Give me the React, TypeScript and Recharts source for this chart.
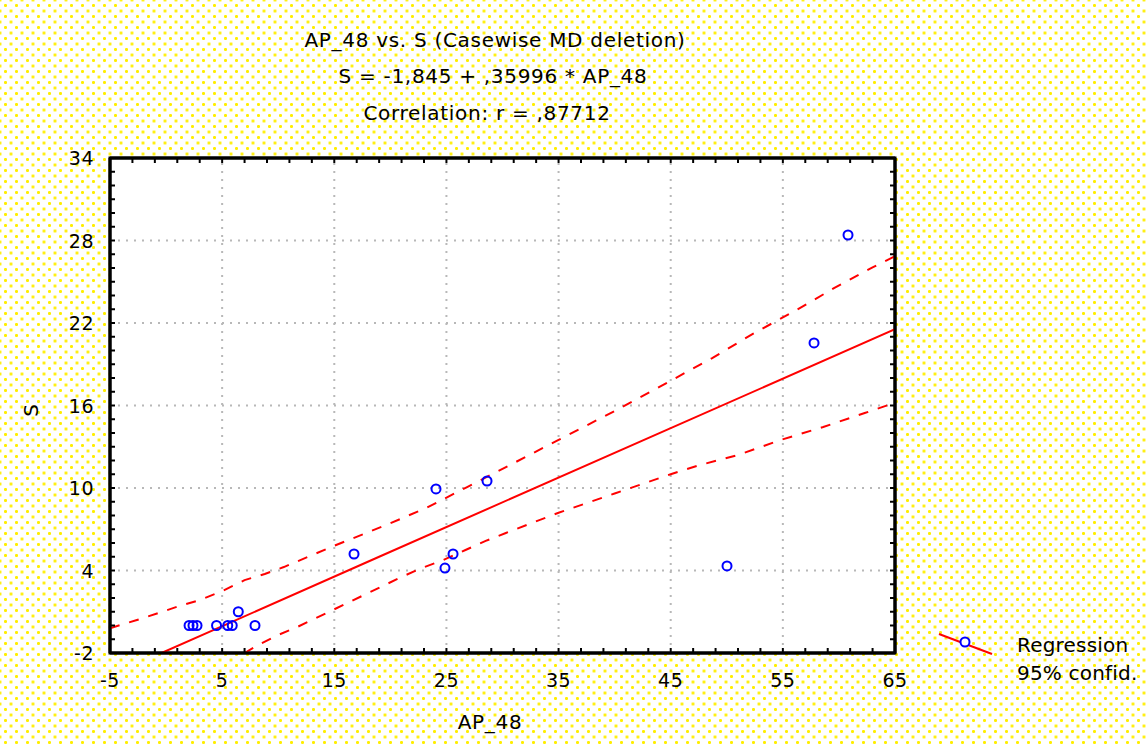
import React from "react"
import { ComposedChart, XAxis, YAxis, Line, Scatter, ReferenceLine, ReferenceArea } from "recharts"

// observed cases (AP_48, S)
const obsX = [2.05, 2.4, 2.76, 4.5, 5.5, 5.9, 6.44, 7.93, 16.76, 24.07, 24.87, 25.59, 28.62, 50.02, 57.78, 60.81]
const obsS = [0, 0, 0, 0, 0, 0, 1, 0, 5.2, 9.93, 4.18, 5.2, 10.51, 4.33, 20.55, 28.4]

// fitted line
const regX = [-0.4, 19, 65]
const regS = [-2, 5.0, 21.55]

// 95% confidence band, upper and lower edge
const upperX = [-5, -2.6, -0.7, 1.1, 3.0, 5.0, 7.0, 8.8, 10.5, 15, 19.6, 23.2, 26.8, 30.5, 35, 40, 45, 48.7, 52.4, 55.9, 59.6, 63.0, 65]
const upperS = [-0.2, 0.4, 0.9, 1.4, 1.85, 2.5, 3.3, 3.75, 4.25, 5.8, 7.3, 8.55, 10.05, 11.6, 13.5, 15.6, 17.8, 19.45, 21.25, 22.8, 24.55, 26.05, 26.85]
const lowerX = [7.0, 8.2, 10.0, 11.7, 15, 21.0, 22.8, 24.7, 26.7, 28.5, 30.3, 35, 40, 45, 47.6, 51.0, 54.8, 58.6, 62.3, 65]
const lowerS = [-2, -1.42, -0.69, -0.11, 1.18, 3.53, 4.18, 4.76, 5.49, 6.15, 6.73, 8.2, 9.6, 11.0, 11.67, 12.4, 13.49, 14.44, 15.45, 16.2]

// axes
const xLabels = [-5, 5, 15, 25, 35, 45, 55, 65]
const yLabels = [-2, 4, 10, 16, 22, 28, 34]
const xGrid = [5, 15, 25, 35, 45, 55]
const yGrid = [4, 10, 16, 22, 28]
const xMinor = Array.from({ length: 36 }, (_, i) => -5 + i * 2)
const yMinor = Array.from({ length: 37 }, (_, i) => -2 + i)

const FONT = "'DejaVu Sans', sans-serif"
const RED = "#ff0000"
const BLUE = "#0000ff"

const zip = (xs: number[], ys: number[]) => xs.map((x, i) => ({ x, y: ys[i] }))
const points = zip(obsX, obsS)
const regression = zip(regX, regS)
const upper = zip(upperX, upperS)
const lower = zip(lowerX, lowerS)

const BottomTick = (p: any) => {
  const v = p.payload.value
  return (
    <g>
      <line x1={p.x} y1={p.y} x2={p.x} y2={p.y - 5} stroke="#000" strokeWidth={2} />
      {xLabels.includes(v) && (
        <text x={p.x} y={p.y + 34} textAnchor="middle" fontFamily={FONT} fontSize={19} letterSpacing={0.5} fill="#000">
          {v}
        </text>
      )}
    </g>
  )
}

const TopTick = (p: any) => <line x1={p.x} y1={p.y} x2={p.x} y2={p.y + 5} stroke="#000" strokeWidth={2} />

const LeftTick = (p: any) => {
  const v = p.payload.value
  return (
    <g>
      <line x1={p.x} y1={p.y} x2={p.x + 5} y2={p.y} stroke="#000" strokeWidth={2} />
      {yLabels.includes(v) && (
        <text x={p.x - 16} y={p.y + 7} textAnchor="end" fontFamily={FONT} fontSize={19} letterSpacing={0.5} fill="#000">
          {v}
        </text>
      )}
    </g>
  )
}

const RightTick = (p: any) => <line x1={p.x} y1={p.y} x2={p.x - 5} y2={p.y} stroke="#000" strokeWidth={2} />

const Ring = (p: any) => <circle cx={p.cx} cy={p.cy} r={4.5} fill="none" stroke={BLUE} strokeWidth={2} />

const txt = (left: number, top: number, s: string, extra: React.CSSProperties = {}) => (
  <div
    style={{
      position: "absolute",
      left,
      top,
      transform: "translate(-50%, -50%)",
      whiteSpace: "nowrap",
      fontFamily: FONT,
      fontSize: 20,
      letterSpacing: 0.7,
      color: "#000",
      ...extra,
    }}
  >
    {s}
  </div>
)

export default function App() {
  const axisLine = { stroke: "#000", strokeWidth: 3 }
  return (
    <div
      style={{
        position: "absolute",
        left: 0,
        top: 0,
        width: 1148,
        height: 746,
        backgroundColor: "#fff",
        backgroundImage:
          "radial-gradient(circle, #ffee00 1.2px, transparent 1.9px), radial-gradient(circle, #ffee00 1.2px, transparent 1.9px)",
        backgroundSize: "11px 11px, 11px 11px",
        backgroundPosition: "0 0, 5.5px 5.5px",
      }}
    >
      <ComposedChart width={1148} height={746} margin={{ top: 157, right: 252, bottom: 0, left: 0 }}>
        <ReferenceArea xAxisId="b" yAxisId="l" x1={-5} x2={65} y1={-2} y2={34} fill="#fff" fillOpacity={1} stroke="#000" strokeWidth={3} />
        {xGrid.map((v) => (
          <ReferenceLine key={`gx${v}`} xAxisId="b" yAxisId="l" x={v} stroke="#b8b8b8" strokeWidth={2} strokeDasharray="2 6" />
        ))}
        {yGrid.map((v) => (
          <ReferenceLine key={`gy${v}`} xAxisId="b" yAxisId="l" y={v} stroke="#b8b8b8" strokeWidth={2} strokeDasharray="2 6" />
        ))}
        <XAxis
          xAxisId="b"
          type="number"
          dataKey="x"
          domain={[-5, 65]}
          ticks={xMinor}
          interval={0}
          allowDataOverflow
          height={93}
          tickSize={0}
          tickMargin={0}
          tickLine={false}
          axisLine={axisLine}
          tick={(p: any) => <BottomTick {...p} />}
        />
        <XAxis
          xAxisId="t"
          orientation="top"
          type="number"
          dataKey="x"
          domain={[-5, 65]}
          ticks={xMinor}
          interval={0}
          allowDataOverflow
          height={1}
          tickSize={0}
          tickMargin={0}
          tickLine={false}
          axisLine={axisLine}
          tick={(p: any) => <TopTick {...p} />}
        />
        <YAxis
          yAxisId="l"
          type="number"
          domain={[-2, 34]}
          ticks={yMinor}
          interval={0}
          allowDataOverflow
          width={110}
          tickSize={0}
          tickMargin={0}
          tickLine={false}
          axisLine={axisLine}
          tick={(p: any) => <LeftTick {...p} />}
        />
        <YAxis
          yAxisId="r"
          orientation="right"
          type="number"
          domain={[-2, 34]}
          ticks={yMinor}
          interval={0}
          allowDataOverflow
          width={1}
          tickSize={0}
          tickMargin={0}
          tickLine={false}
          axisLine={axisLine}
          tick={(p: any) => <RightTick {...p} />}
        />
        <Line xAxisId="b" yAxisId="l" data={upper} dataKey="y" type="linear" dot={false} stroke={RED} strokeWidth={2} strokeDasharray="10 10" isAnimationActive={false} />
        <Line xAxisId="b" yAxisId="l" data={lower} dataKey="y" type="linear" dot={false} stroke={RED} strokeWidth={2} strokeDasharray="10 10" isAnimationActive={false} />
        <Line xAxisId="b" yAxisId="l" data={regression} dataKey="y" type="linear" dot={false} stroke={RED} strokeWidth={2} isAnimationActive={false} />
        <Scatter xAxisId="b" yAxisId="l" data={points} dataKey="y" shape={Ring} isAnimationActive={false} />
      </ComposedChart>

      {txt(495, 40, "AP_48 vs. S (Casewise MD deletion)")}
      {txt(493, 76, "S = -1,845 + ,35996 * AP_48")}
      {txt(487, 113, "Correlation: r = ,87712")}
      {txt(490, 722, "AP_48")}
      {txt(31, 410, "S", { transform: "translate(-50%, -50%) rotate(-90deg)" })}

      <svg style={{ position: "absolute", left: 935, top: 628 }} width={62} height={32}>
        <line x1={4} y1={6} x2={57} y2={26} stroke={RED} strokeWidth={2} />
        <circle cx={30} cy={14} r={4.5} fill="#fff" stroke={BLUE} strokeWidth={2} />
      </svg>
      <div style={{ position: "absolute", left: 1017, top: 631, fontFamily: FONT, fontSize: 20, letterSpacing: 0.2, lineHeight: "28px", color: "#000" }}>
        <div>Regression</div>
        <div>95% confid.</div>
      </div>
    </div>
  )
}
